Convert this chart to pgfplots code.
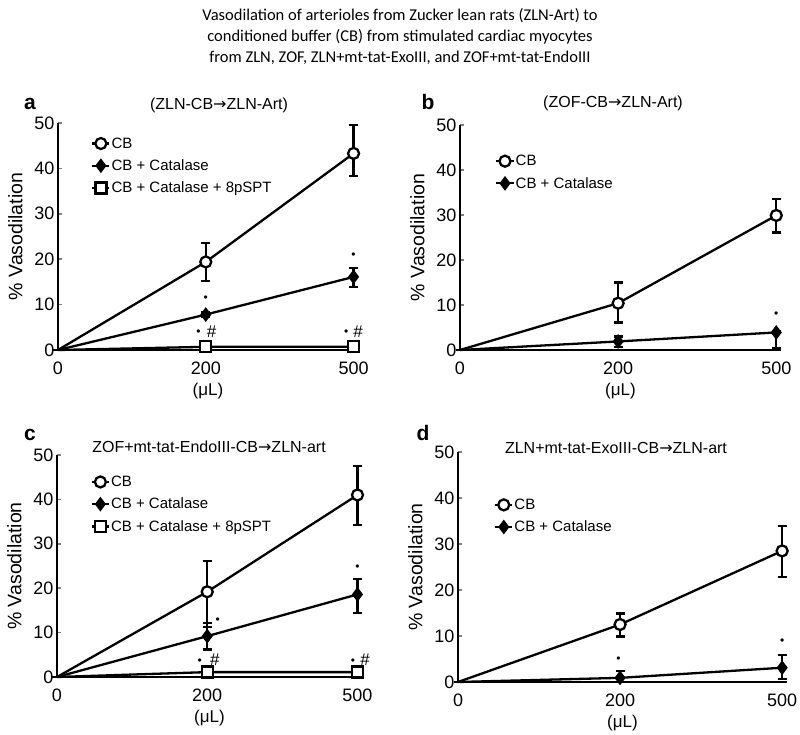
\documentclass[border=0pt]{standalone}
\usepackage{pgfplots}
\pgfplotsset{compat=1.18}
\usepackage{fontspec}
\setmainfont{Liberation Sans}
\newfontfamily\titlefont{Carlito}
\newfontfamily\arrowfont{DejaVu Sans}
\newcommand{\arr}{{\arrowfont →}}

\pgfplotsset{
 panel/.style={
  scale only axis, anchor=south west,
  xmin=0, xmax=2.03, ymin=0, ymax=50,
  axis x line*=bottom, axis y line*=left,
  axis line style={line width=2.2pt,-},
  xtick={0,1,2}, xticklabels={0,200,500},
  xtick style={draw=none},
  ytick={0,10,20,30,40,50},
  tick align=inside, major tick length=4pt,
  ytick style={line width=1.6pt},
  tick label style={font=\fontsize{18}{20}\selectfont},
  /pgf/number format/assume math mode=true,
  xticklabel style={yshift=-8pt},
  xlabel={(μL)}, xlabel style={font=\fontsize{17}{19}\selectfont, yshift=-2pt},
  ylabel={\% Vasodilation}, ylabel style={font=\fontsize{19.5}{21}\selectfont},
  ylabel shift=5pt,
  legend style={draw=none, fill=none, font=\fontsize{15}{17}\selectfont, row sep=8pt, anchor=north west,
    nodes={inner sep=1pt}},
  legend cell align=left,
  clip=false,
 },
 base/.style={black, line width=2.3pt, mark size=5.5pt, mark options={line width=1.8pt, solid}},
 eb/.style={mark indices={2,3}, forget plot,
   /pgfplots/error bars/y dir=both, /pgfplots/error bars/y explicit,
   /pgfplots/error bars/error mark=-,
   /pgfplots/error bars/error bar style={line width=2.2pt},
   /pgfplots/error bars/error mark options={rotate=90, line width=2.2pt, mark size=4.5pt}},
 cb/.style={base, mark=*, mark options={fill=white}},
 cat/.style={base, mark=diamond*, mark options={fill=black}},
 spt/.style={base, mark=square*, mark size=5.5pt, mark options={fill=white}},
}
\newcommand{\sig}[2]{\node[font=\fontsize{12}{12}\selectfont, inner sep=0pt] at (axis cs:#1,#2) {\textbullet};}
\newcommand{\hash}[2]{\node[font=\fontsize{17}{17}\selectfont, inner sep=0pt] at (axis cs:#1,#2) {\#};}

\begin{document}
\begin{tikzpicture}
\path[use as bounding box] (0pt,0pt) rectangle (800pt,735pt);

% Title
\node[font=\titlefont\fontsize{16.5}{21}\selectfont, align=center] at (400pt,698pt)
 {Vasodilation of arterioles from Zucker lean rats (ZLN-Art) to\\
  conditioned buffer (CB) from stimulated cardiac myocytes\\
  from ZLN, ZOF, ZLN+mt-tat-ExoIII, and ZOF+mt-tat-EndoIII};

% Panel letters and titles
\node[font=\bfseries\fontsize{21}{21}\selectfont] at (30pt,631pt) {a};
\node[font=\bfseries\fontsize{21}{21}\selectfont] at (428pt,633pt) {b};
\node[font=\bfseries\fontsize{21}{21}\selectfont] at (30pt,300pt) {c};
\node[font=\bfseries\fontsize{21}{21}\selectfont] at (423pt,302pt) {d};
\node[font=\fontsize{16}{16}\selectfont] at (219pt,630pt) {(ZLN-CB\arr ZLN-Art)};
\node[font=\fontsize{16}{16}\selectfont] at (613pt,632pt) {(ZOF-CB\arr ZLN-Art)};
\node[font=\fontsize{16}{16}\selectfont] at (209pt,288pt) {ZOF+mt-tat-EndoIII-CB\arr ZLN-art};
\node[font=\fontsize{16}{16}\selectfont] at (616pt,287pt) {ZLN+mt-tat-ExoIII-CB\arr ZLN-art};

% Panel a
\begin{axis}[panel, at={(58pt,385pt)}, width=300pt, height=227pt,
  legend style={at={(0.10,0.95)}}]
\addplot[cb, eb] coordinates {(0,0) +- (0,0) (1,19.4) += (0,4.1) -= (0,4.2) (2,43.3) += (0,6.3) -= (0,5.0)};
\addplot[cat, eb] coordinates {(0,0) +- (0,0) (1,7.8) += (0,0.5) -= (0,0.5) (2,16.1) += (0,2.0) -= (0,2.2)};
\addplot[spt, eb] coordinates {(0,0) +- (0,0) (1,0.7) +- (0,0.2) (2,0.7) +- (0,0.2)};
\addlegendimage{cb}\addlegendentry{CB}
\addlegendimage{cat}\addlegendentry{CB + Catalase}
\addlegendimage{spt}\addlegendentry{CB + Catalase + 8pSPT}
\sig{1}{11.3} \sig{2}{20.7}
\sig{0.95}{3.7} \hash{1.04}{4.0}
\sig{1.95}{3.7} \hash{2.03}{4.0}
\end{axis}

% Panel b
\begin{axis}[panel, at={(460pt,385pt)}, width=321pt, height=225pt,
  legend style={at={(0.10,0.88)}}]
\addplot[cb, eb] coordinates {(0,0) +- (0,0) (1,10.4) += (0,4.6) -= (0,4.3) (2,29.9) += (0,3.6) -= (0,3.8)};
\addplot[cat, eb] coordinates {(0,0) +- (0,0) (1,1.9) += (0,1.1) -= (0,1.2) (2,3.9) += (0,0.3) -= (0,3.4)};
\addlegendimage{cb}\addlegendentry{CB}
\addlegendimage{cat}\addlegendentry{CB + Catalase}
\sig{2}{7.8}
\end{axis}

% Panel c
\begin{axis}[panel, at={(57pt,58pt)}, width=305pt, height=222pt,
  legend style={at={(0.10,0.92)}}]
\addplot[cb, eb] coordinates {(0,0) +- (0,0) (1,19.2) += (0,6.9) -= (0,7.9) (2,41.0) += (0,6.5) -= (0,6.8)};
\addplot[cat, eb] coordinates {(0,0) +- (0,0) (1,9.2) += (0,3.0) -= (0,3.0) (2,18.6) += (0,3.4) -= (0,4.1)};
\addplot[spt, eb] coordinates {(0,0) +- (0,0) (1,1.1) +- (0,0.2) (2,1.1) +- (0,0.2)};
\addlegendimage{cb}\addlegendentry{CB}
\addlegendimage{cat}\addlegendentry{CB + Catalase}
\addlegendimage{spt}\addlegendentry{CB + Catalase + 8pSPT}
\sig{1.07}{12.6} \sig{2}{24.6}
\sig{0.95}{3.5} \hash{1.05}{3.8}
\sig{1.97}{3.5} \hash{2.05}{3.8}
\end{axis}

% Panel d
\begin{axis}[panel, at={(458pt,53pt)}, width=329pt, height=230pt,
  legend style={at={(0.10,0.81)}}]
\addplot[cb, eb] coordinates {(0,0) +- (0,0) (1,12.5) += (0,2.4) -= (0,2.6) (2,28.5) += (0,5.4) -= (0,5.7)};
\addplot[cat, eb] coordinates {(0,0) +- (0,0) (1,0.9) += (0,1.5) -= (0,0.9) (2,3.1) += (0,2.7) -= (0,2.5)};
\addlegendimage{cb}\addlegendentry{CB}
\addlegendimage{cat}\addlegendentry{CB + Catalase}
\sig{0.99}{4.9} \sig{2}{8.8}
\end{axis}
\end{tikzpicture}
\end{document}
